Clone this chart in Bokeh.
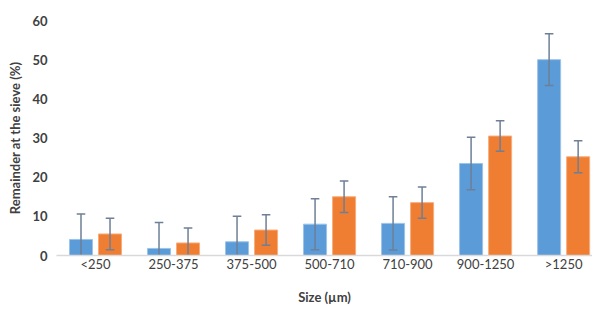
from bokeh.plotting import figure
from bokeh.models import Range1d, ColumnDataSource, FixedTicker, Legend, LegendItem
from bokeh.embed import file_html
from bokeh.resources import INLINE

categories = ["<250", "250-375", "375-500", "500-710", "710-900", "900-1250", ">1250"]
lac = [4.1, 1.8, 3.5, 8.0, 8.2, 23.5, 50.0]
lac_err = [6.5, 6.6, 6.5, 6.5, 6.8, 6.7, 6.6]
mcc = [5.5, 3.2, 6.5, 15.0, 13.5, 30.5, 25.2]
mcc_err = [4.0, 3.8, 3.9, 4.0, 4.0, 3.9, 4.1]
y_ticks = [0, 10, 20, 30, 40, 50, 60]

FONT = "Lato"
TXT = "#404040"
idx = list(range(len(categories)))
off = 0.186
bw = 0.295
cap = 0.055

def series(vals, errs, shift):
    xs = [i + shift for i in idx]
    return ColumnDataSource(dict(
        x=xs, top=vals,
        up=[v + e for v, e in zip(vals, errs)],
        lo=[v - e for v, e in zip(vals, errs)],
        x0=[x - cap for x in xs], x1=[x + cap for x in xs],
    ))

s_lac = series(lac, lac_err, -off)
s_mcc = series(mcc, mcc_err, off)

p = figure(frame_width=536, frame_height=235, output_backend="svg", toolbar_location=None,
           x_range=Range1d(-0.5, 6.37), y_range=Range1d(0, 60),
           min_border_left=56, min_border_right=0, min_border_top=20, min_border_bottom=10)
p.outline_line_color = None
p.background_fill_color = "white"
p.xgrid.visible = False
p.ygrid.visible = False

r1 = p.vbar(x="x", top="top", width=bw, source=s_lac, fill_color="#5a9bd8",
            line_color="#9cc3ea", line_width=1)
r2 = p.vbar(x="x", top="top", width=bw, source=s_mcc, fill_color="#ef7d32",
            line_color="#f6ad7d", line_width=1)

err_col = "#6e7f96"
for s in (s_lac, s_mcc):
    p.segment(x0="x", y0="lo", x1="x", y1="up", source=s, line_color=err_col, line_width=1.5)
    p.segment(x0="x0", y0="up", x1="x1", y1="up", source=s, line_color=err_col, line_width=1.5)
    p.segment(x0="x0", y0="lo", x1="x1", y1="lo", source=s, line_color=err_col, line_width=1.5)

# x axis
p.xaxis.ticker = FixedTicker(ticks=idx)
p.xaxis.major_label_overrides = {i: c for i, c in zip(idx, categories)}
p.xaxis.axis_line_color = "#d9d9d9"
p.xaxis.axis_line_width = 1.5
p.xaxis.major_tick_line_color = None
p.xaxis.minor_tick_line_color = None
p.xaxis.major_tick_out = 0
p.xaxis.major_tick_in = 0
p.xaxis.major_label_text_font = FONT
p.xaxis.major_label_text_font_size = "13px"
p.xaxis.major_label_text_color = TXT
p.xaxis.major_label_standoff = 0
p.xaxis.axis_label = "Size (µm)"
p.xaxis.axis_label_text_font = FONT
p.xaxis.axis_label_text_font_style = "bold"
p.xaxis.axis_label_text_font_size = "13px"
p.xaxis.axis_label_text_color = TXT
p.xaxis.axis_label_standoff = 14

# y axis
p.yaxis.ticker = FixedTicker(ticks=y_ticks)
p.yaxis.axis_line_color = None
p.yaxis.major_tick_line_color = None
p.yaxis.minor_tick_line_color = None
p.yaxis.major_tick_out = 0
p.yaxis.major_tick_in = 0
p.yaxis.major_label_text_font = FONT
p.yaxis.major_label_text_font_size = "13px"
p.yaxis.major_label_text_font_style = "bold"
p.yaxis.major_label_text_color = TXT
p.yaxis.major_label_standoff = 9
p.yaxis.axis_label = "Remainder at the sieve (%)"
p.yaxis.axis_label_text_font = FONT
p.yaxis.axis_label_text_font_style = "bold"
p.yaxis.axis_label_text_font_size = "13px"
p.yaxis.axis_label_text_color = TXT
p.yaxis.axis_label_standoff = 6

legend = Legend(items=[LegendItem(label="LAC GRA", renderers=[r1]),
                       LegendItem(label="MCC GRA", renderers=[r2])],
                orientation="horizontal", location="center")
legend.label_text_font = FONT
legend.label_text_font_style = "bold"
legend.label_text_font_size = "13px"
legend.label_text_color = TXT
legend.glyph_width = 9
legend.glyph_height = 9
legend.label_standoff = 3
legend.spacing = 14
legend.padding = 0
legend.margin = 4
legend.border_line_color = None
legend.background_fill_alpha = 0
p.add_layout(legend, "below")

open("out.html", "w").write(file_html(p, INLINE))
